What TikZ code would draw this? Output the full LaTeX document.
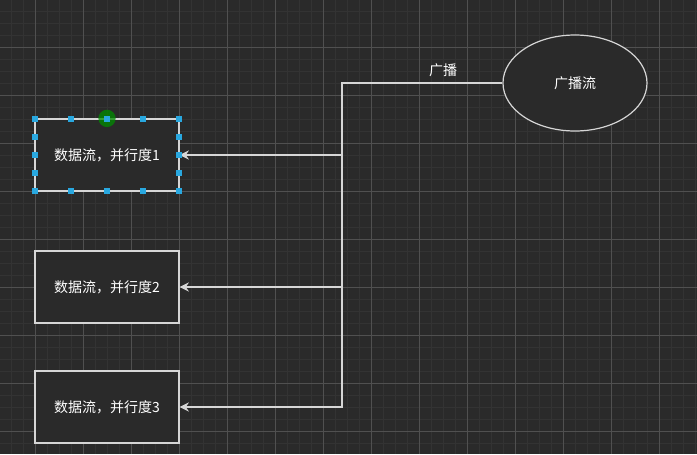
\documentclass[tikz,border=0pt]{standalone}
\usepackage{fontspec}
\newfontfamily\cjk{Noto Sans CJK SC}
\usetikzlibrary{positioning, arrows.meta, shapes.geometric}

\definecolor{canvas}{HTML}{2A2A2A}
\definecolor{gridminor}{HTML}{333333}
\definecolor{gridmajor}{HTML}{505050}
\definecolor{edgegray}{HTML}{D6D6D6}
\definecolor{handle}{HTML}{29A8E0}

\tikzset{
    stream/.style={draw=edgegray, fill=canvas, line width=0.9pt, text=white,
        minimum width=108pt, minimum height=54pt, font=\cjk\fontsize{10.5}{12}\selectfont},
    bcast/.style={ellipse, draw=edgegray, fill=canvas, line width=0.9pt, text=white,
        minimum width=108pt, minimum height=72pt, font=\cjk\fontsize{10.5}{12}\selectfont},
    flow/.style={draw=edgegray, line width=0.9pt, -{Stealth[length=7pt, width=7pt]}},
}

\begin{document}
\begin{tikzpicture}[x=0.75pt, y=-0.75pt]

\useasboundingbox (0,0) rectangle (697,454);
\fill [canvas] (0,0) rectangle (697,454);

% grid
\foreach \g in {11,23,...,695}
    \draw [gridminor, line width=0.75pt] (\g,0) -- (\g,454);
\foreach \g in {11,23,...,453}
    \draw [gridminor, line width=0.75pt] (0,\g) -- (697,\g);
\foreach \g in {35,83,...,695}
    \draw [gridmajor, line width=0.75pt] (\g,0) -- (\g,454);
\foreach \g in {47,95,...,453}
    \draw [gridmajor, line width=0.75pt] (0,\g) -- (697,\g);

\foreach \n/\y in {1/155, 2/287, 3/407}
    \node [stream] (stream-\n) at (107,\y) {数据流，并行度\n};

\node [bcast] (source) at (575,83) {广播流};

\coordinate (split) at (342,83);

\draw [flow] (source.west) -- (split)
    node [pos=0.37, above=1pt, text=white, font=\cjk\fontsize{10.5}{12}\selectfont] (label) {广播}
    |- (stream-3.east);

\foreach \n in {1, 2}
    \draw [flow] (split |- stream-\n.east) -- (stream-\n.east);

% selection handles
\fill [green!55!black, opacity=0.75] (stream-1.north) circle (6.5pt);
\foreach \x in {35,71,...,179}
    \foreach \y in {119,191}
        \fill [handle] (\x,\y) ++(-3,-3) rectangle ++(6,6);
\foreach \y in {137,155,173}
    \foreach \x in {35,179}
        \fill [handle] (\x,\y) ++(-3,-3) rectangle ++(6,6);

\end{tikzpicture}
\end{document}
